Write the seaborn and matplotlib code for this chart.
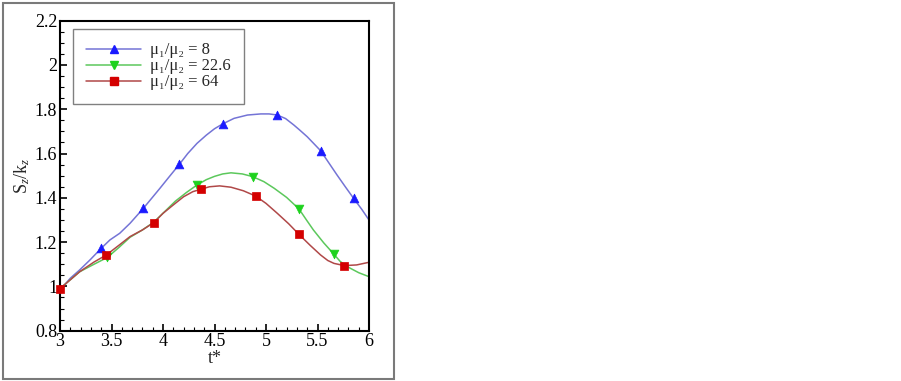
import numpy as np
import pandas as pd
import matplotlib
matplotlib.use("Agg")
import matplotlib.pyplot as plt
import seaborn as sns
from matplotlib.ticker import MultipleLocator
from matplotlib.patches import Rectangle

sns.set_theme(style="white")
plt.rcParams['font.family'] = ['Liberation Serif', 'DejaVu Serif']
plt.rcParams['mathtext.fontset'] = 'custom'
plt.rcParams['mathtext.rm'] = 'Liberation Serif'
plt.rcParams['mathtext.it'] = 'Liberation Serif:italic'

# curve samples (t*, S_z/k_z)
t_blue = [3.0, 3.05, 3.1, 3.19, 3.29, 3.40, 3.485, 3.58, 3.68, 3.81, 3.89, 3.97, 4.06, 4.16, 4.24, 4.33, 4.42, 4.50, 4.58, 4.69, 4.82, 4.95, 5.03, 5.11, 5.19, 5.27, 5.33, 5.40, 5.46, 5.53, 5.61, 5.69, 5.77, 5.85, 5.93, 6.0]
v_blue = [0.99, 1.01, 1.037, 1.074, 1.119, 1.172, 1.210, 1.240, 1.285, 1.353, 1.398, 1.443, 1.495, 1.552, 1.600, 1.646, 1.683, 1.712, 1.734, 1.759, 1.774, 1.779, 1.779, 1.774, 1.758, 1.729, 1.705, 1.676, 1.647, 1.613, 1.558, 1.503, 1.450, 1.398, 1.348, 1.300]
t_green = [3.0, 3.1, 3.19, 3.33, 3.46, 3.57, 3.68, 3.8, 3.91, 4.01, 4.12, 4.23, 4.33, 4.42, 4.50, 4.58, 4.66, 4.77, 4.87, 4.98, 5.08, 5.2, 5.32, 5.39, 5.46, 5.56, 5.66, 5.72, 5.79, 5.9, 6.0]
v_green = [0.99, 1.03, 1.066, 1.10, 1.131, 1.175, 1.222, 1.255, 1.29, 1.335, 1.385, 1.425, 1.458, 1.482, 1.497, 1.508, 1.513, 1.508, 1.496, 1.473, 1.443, 1.402, 1.350, 1.302, 1.255, 1.197, 1.145, 1.113, 1.089, 1.062, 1.044]
t_red = [3.0, 3.1, 3.19, 3.33, 3.45, 3.57, 3.68, 3.8, 3.91, 4.0, 4.1, 4.2, 4.29, 4.37, 4.45, 4.55, 4.66, 4.78, 4.90, 5.0, 5.11, 5.22, 5.32, 5.43, 5.53, 5.6, 5.66, 5.76, 5.88, 6.0]
v_red = [0.99, 1.03, 1.066, 1.11, 1.142, 1.185, 1.225, 1.255, 1.288, 1.33, 1.368, 1.405, 1.428, 1.439, 1.450, 1.454, 1.448, 1.432, 1.408, 1.375, 1.330, 1.283, 1.235, 1.185, 1.142, 1.117, 1.104, 1.094, 1.097, 1.109]

# marker positions
mt_blue = [3.40, 3.81, 4.16, 4.58, 5.11, 5.53, 5.85]
mv_blue = [1.172, 1.353, 1.552, 1.734, 1.774, 1.613, 1.398]
mt_green = [3.46, 4.33, 4.87, 5.32, 5.66]
mv_green = [1.131, 1.458, 1.496, 1.350, 1.145]
mt_red = [3.0, 3.45, 3.91, 4.37, 4.90, 5.32, 5.76]
mv_red = [0.99, 1.142, 1.288, 1.439, 1.408, 1.235, 1.094]

labels = ["μ₁/μ₂ = 8", "μ₁/μ₂ = 22.6", "μ₁/μ₂ = 64"]

fig = plt.figure(figsize=(9.01, 3.81), dpi=100)
ax = fig.add_axes([60/901, 1-330.7/381, 309/901, 310/381])

series = [
    (t_blue, v_blue, mt_blue, mv_blue, '#7474d6', '#1a1aff', '^', 6.3),
    (t_green, v_green, mt_green, mv_green, '#5cc85c', '#1ed21e', 'v', 6.3),
    (t_red, v_red, mt_red, mv_red, '#b04848', '#d40000', 's', 5.5),
]
handles = []
for (t, v, mt, mv, lc, mc, mk, ms), lab in zip(series, labels):
    df = pd.DataFrame({'t': t, 'v': v})
    sns.lineplot(data=df, x='t', y='v', ax=ax, color=lc, lw=1.1, sort=False)
    dm = pd.DataFrame({'t': mt, 'v': mv})
    sns.scatterplot(data=dm, x='t', y='v', ax=ax, color=mc, marker=mk, s=ms**2, edgecolor=mc, linewidth=0.5, zorder=5, clip_on=False)
    h, = ax.plot([], [], color=lc, lw=1.1, marker=mk, markersize=ms, markerfacecolor=mc, markeredgecolor=mc)
    handles.append(h)

ax.set_xlim(3, 6)
ax.set_ylim(0.8, 2.2)
ax.xaxis.set_minor_locator(MultipleLocator(0.1))
ax.yaxis.set_minor_locator(MultipleLocator(0.05))
ax.set_xticks([3, 3.5, 4, 4.5, 5, 5.5, 6])
ax.set_xticklabels(['3', '3.5', '4', '4.5', '5', '5.5', '6'])
ax.set_yticks([0.8, 1.0, 1.2, 1.4, 1.6, 1.8, 2.0, 2.2])
ax.set_yticklabels(['0.8', '1', '1.2', '1.4', '1.6', '1.8', '2', '2.2'])
ax.tick_params(which='both', direction='in', bottom=True, left=True, top=False, right=False, labelsize=13, colors='black')
ax.tick_params(which='major', length=5, width=1.2, pad=2)
ax.tick_params(which='minor', length=3, width=0.8)
for s in ax.spines.values():
    s.set_color('black')
    s.set_linewidth(1.5)
ax.set_xlabel('t*', fontsize=13, labelpad=0)
ax.set_ylabel(r'S$_z$/k$_z$', fontsize=13, labelpad=2)

leg = ax.legend(handles, labels, loc='upper left', bbox_to_anchor=(0.042, 0.973), fontsize=12,
                frameon=True, fancybox=False, edgecolor='#808080', framealpha=1, handlelength=3.3,
                labelspacing=0.0, borderpad=0.8, handletextpad=0.5, borderaxespad=0)
leg.get_frame().set_linewidth(1.0)

fig.patches.append(Rectangle((3/901, 1-379/381), 391/901, 376/381, transform=fig.transFigure,
                             fill=False, edgecolor='#7a7a7a', lw=1.5))

fig.savefig('out.png', dpi=100)
